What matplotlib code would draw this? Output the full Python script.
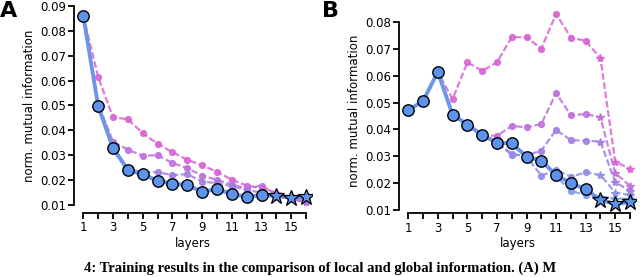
import numpy as np
import matplotlib.pyplot as plt

layers = np.arange(1, 17)

# panel A: full-network curve and comparison curves
a_main = [0.086, 0.0498, 0.0329, 0.0241, 0.0224, 0.0197, 0.0186, 0.0180, 0.0153, 0.0164, 0.0145, 0.0132, 0.0141, 0.0137, 0.0129, 0.0132]
a_l1 = [0.086, 0.0615, 0.0452, 0.0445, 0.0389, 0.0346, 0.0312, 0.0282, 0.0259, 0.0234, 0.0201, 0.0178, 0.0168, 0.0150, 0.0125, 0.0110]
a_l2 = [0.086, 0.0505, 0.0355, 0.0322, 0.0298, 0.0300, 0.0269, 0.0248, 0.0218, 0.0201, 0.0182, 0.0166, 0.0178, 0.0142, 0.0122, 0.0112]
a_l3 = [0.086, 0.0500, 0.0335, 0.0245, 0.0232, 0.0232, 0.0220, 0.0224, 0.0194, 0.0188, 0.0176, 0.0160, 0.0150, 0.0135, 0.0125, 0.0118]
a_l4 = [0.086, 0.0495, 0.0320, 0.0238, 0.0218, 0.0195, 0.0182, 0.0176, 0.0152, 0.0158, 0.0142, 0.0130, 0.0136, 0.0133, 0.0125, 0.0128]

# panel B
b_main = [0.0471, 0.0506, 0.0614, 0.0455, 0.0418, 0.0379, 0.0351, 0.0348, 0.0299, 0.0283, 0.0231, 0.0199, 0.0178, 0.0137, 0.0122, 0.0129]
b_l1 = [0.0471, 0.0506, 0.0614, 0.0513, 0.0650, 0.0618, 0.0650, 0.0744, 0.0743, 0.0701, 0.0830, 0.0742, 0.0730, 0.0666, 0.0280, 0.0253]
b_l2 = [0.0471, 0.0506, 0.0614, 0.0455, 0.0418, 0.0379, 0.0376, 0.0413, 0.0408, 0.0420, 0.0535, 0.0453, 0.0457, 0.0445, 0.0237, 0.0190]
b_l3 = [0.0471, 0.0506, 0.0614, 0.0455, 0.0418, 0.0379, 0.0350, 0.0305, 0.0303, 0.0321, 0.0398, 0.0360, 0.0358, 0.0355, 0.0203, 0.0172]
b_l4 = [0.0471, 0.0506, 0.0614, 0.0455, 0.0418, 0.0379, 0.0351, 0.0310, 0.0299, 0.0228, 0.0249, 0.0224, 0.0240, 0.0230, 0.0165, 0.0155]
b_l5 = [0.0471, 0.0506, 0.0614, 0.0455, 0.0418, 0.0379, 0.0351, 0.0348, 0.0299, 0.0283, 0.0225, 0.0171, 0.0156, 0.0150, 0.0142, 0.0142]

line_colors = ['#d964d4', '#c170dc', '#a37ee2', '#8e8ee8', '#7a9cec']
main_line = '#6f95e8'
main_fill = '#5e93ec'

xticks = np.arange(1, 17)
xticklabels = [str(i) if i % 2 == 1 else '' for i in xticks]


def draw(ax, main, others, ylim, yticks, bottom_off):
    circ = layers <= 13
    star = layers >= 14
    for vals, c in zip(others, line_colors[:len(others)]):
        vals = np.array(vals)
        ax.plot(layers, vals, color=c, lw=1.6, ls=(0, (3, 1.2)), alpha=0.85, zorder=2)
        ax.plot(layers[circ], vals[circ], 'o', color=c, ms=4.2, alpha=0.9, zorder=2)
        ax.plot(layers[star], vals[star], '*', color=c, ms=6, alpha=0.9, zorder=2)
    main = np.array(main)
    ax.plot(layers, main, color=main_line, lw=2.8, zorder=3)
    ax.plot(layers[circ], main[circ], 'o', mfc=main_fill, mec='black', mew=1.0, ms=8.2, zorder=4)
    ax.plot(layers[star], main[star], '*', mfc=main_fill, mec='black', mew=0.9, ms=12, zorder=4)

    ax.set_xlim(0.4, 16.4)
    ax.set_ylim(*ylim)
    ax.set_xticks(xticks)
    ax.set_xticklabels(xticklabels)
    ax.set_yticks(yticks)
    ax.set_yticklabels(['%.2f' % t for t in yticks])
    for s in ['top', 'right']:
        ax.spines[s].set_visible(False)
    ax.spines['bottom'].set_position(('outward', bottom_off))
    ax.spines['bottom'].set_bounds(1, 16)
    ax.spines['left'].set_bounds(yticks[0], yticks[-1])
    ax.spines['left'].set_linewidth(1.3)
    ax.spines['bottom'].set_linewidth(1.3)
    ax.tick_params(width=1.3, length=4, labelsize=8.5, pad=2)
    ax.set_xlabel('layers', fontsize=8.5, labelpad=2)
    ax.set_ylabel('norm. mutual information', fontsize=8.5, labelpad=3)


fig = plt.figure(figsize=(6.4, 2.77), dpi=100)
axA = fig.add_axes([74.4 / 640, 1 - 206.2 / 277, 237.6 / 640, 201.4 / 277])
axB = fig.add_axes([399.4 / 640, 1 - 211.3 / 277, 236.5 / 640, 200.0 / 277])

draw(axA, a_main, [a_l1, a_l2, a_l3, a_l4], (0.0095, 0.0905),
     [0.01, 0.02, 0.03, 0.04, 0.05, 0.06, 0.07, 0.08, 0.09], 5)
draw(axB, b_main, [b_l1, b_l2, b_l3, b_l4, b_l5], (0.0095, 0.084),
     [0.01, 0.02, 0.03, 0.04, 0.05, 0.06, 0.07, 0.08], 1.5)

fig.text(0.0, 1 - 1 / 277, 'A', fontsize=16, fontweight='bold', va='top', ha='left')
fig.text(322 / 640, 1 - 1 / 277, 'B', fontsize=16, fontweight='bold', va='top', ha='left')

fig.text(0.5, 1 - 262 / 277,
         '4: Training results in the comparison of local and global information. (A) M',
         fontsize=10.5, fontweight='bold', family='Liberation Serif', va='top', ha='center')

fig.savefig('out.png', dpi=100)
